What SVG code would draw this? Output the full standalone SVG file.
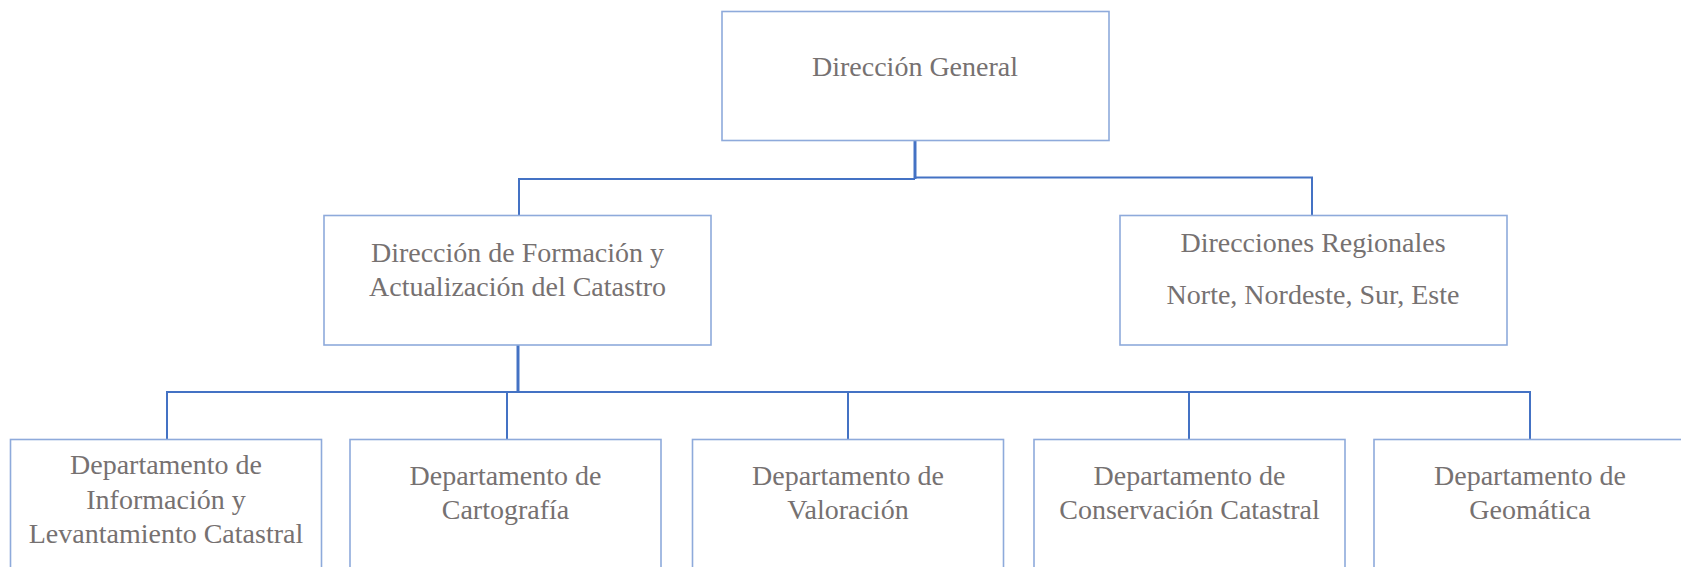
<svg xmlns="http://www.w3.org/2000/svg" width="1681" height="567" viewBox="0 0 1681 567">
<style>
.box{fill:#ffffff;stroke:#8eaadb;stroke-width:1.6}
.lbl{font-family:"Liberation Serif","Times New Roman",serif;font-size:28px;fill:#767171;text-anchor:middle}
.con{fill:none;stroke:#4472c4;stroke-width:2}
.thick{fill:none;stroke:#4472c4;stroke-width:3}
</style>
<rect width="1681" height="567" fill="#ffffff"/>
<g id="connectors">
<path class="thick" d="M915 140 V179"/>
<path class="con" d="M519 215.5 V179 H915"/>
<path class="con" d="M915 177.5 H1312 V215.5"/>
<path class="thick" d="M518 345 V392"/>
<path class="con" d="M167 439 V392 H1530 V439"/>
<path class="con" d="M507 392 V439"/>
<path class="con" d="M848 392 V439"/>
<path class="con" d="M1189 392 V439"/>
</g>
<g id="dg">
<rect class="box" x="722" y="11.5" width="387" height="129"/>
<text class="lbl" x="915" y="76">Dirección General</text>
</g>
<g id="formacion">
<rect class="box" x="324" y="215.5" width="387" height="129.5"/>
<text class="lbl" x="517.5" y="261.5">Dirección de Formación y</text>
<text class="lbl" x="517.5" y="296">Actualización del Catastro</text>
</g>
<g id="regionales">
<rect class="box" x="1120" y="215.5" width="387" height="129.5"/>
<text class="lbl" x="1313" y="251.5">Direcciones Regionales</text>
<text class="lbl" x="1313" y="304">Norte, Nordeste, Sur, Este</text>
</g>
<g id="dep-informacion">
<rect class="box" x="10.5" y="439.5" width="311" height="150"/>
<text class="lbl" x="166" y="473.5">Departamento de</text>
<text class="lbl" x="166" y="509">Información y</text>
<text class="lbl" x="166" y="543">Levantamiento Catastral</text>
</g>
<g id="dep-cartografia">
<rect class="box" x="350" y="439.5" width="311" height="150"/>
<text class="lbl" x="505.5" y="485">Departamento de</text>
<text class="lbl" x="505.5" y="518.5">Cartografía</text>
</g>
<g id="dep-valoracion">
<rect class="box" x="692.5" y="439.5" width="311" height="150"/>
<text class="lbl" x="848" y="485">Departamento de</text>
<text class="lbl" x="848" y="518.5">Valoración</text>
</g>
<g id="dep-conservacion">
<rect class="box" x="1034" y="439.5" width="311" height="150"/>
<text class="lbl" x="1189.5" y="485">Departamento de</text>
<text class="lbl" x="1189.5" y="518.5">Conservación Catastral</text>
</g>
<g id="dep-geomatica">
<rect class="box" x="1374" y="439.5" width="311" height="150"/>
<text class="lbl" x="1530" y="485">Departamento de</text>
<text class="lbl" x="1530" y="518.5">Geomática</text>
</g>
</svg>
